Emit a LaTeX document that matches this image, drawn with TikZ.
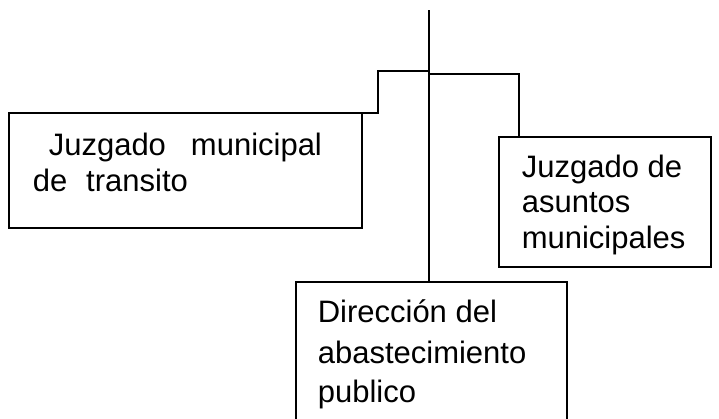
\documentclass[tikz,border=0pt]{standalone}
\usepackage{fontspec}
\setmainfont{Liberation Sans}
\begin{document}
\begin{tikzpicture}[x=1pt,y=-1pt,line width=1.6pt,
  box/.style={draw, inner sep=0pt, outer sep=0pt, anchor=north west},
  openbox/.style={inner sep=0pt, outer sep=0pt, anchor=north west},
  txt/.style={anchor=base west, inner sep=0pt, font=\fontsize{31}{36}\selectfont}]
\useasboundingbox (0,0) rectangle (719,418);
% boxes
\node[box, minimum width=353pt, minimum height=115pt] (L) at (9,113) {};
\node[box, minimum width=212pt, minimum height=130pt] (R) at (499,137) {};
\node[openbox, minimum width=271pt, minimum height=137pt] (B) at (296,282) {};
\draw (B.south west) -- (B.north west) -- (B.north east) -- (B.south east);
% connectors
\coordinate (top) at (429,10);
\coordinate (jl) at (429,71);
\coordinate (jr) at (429,74);
\coordinate (lk) at (378,71);
\coordinate (rk) at (519,74);
\draw (top) -- (top |- B.north);
\draw (jl) -- (lk) -- (lk |- L.north) -- (L.north east);
\draw (jr) -- (rk) -- (rk |- R.north);
% texts
\node[txt] (l1) at (48,155) {Juzgado\hspace{25pt}municipal};
\node[txt] (l2) at (32,191) {de\hspace{19pt}transito};
\node[txt] (r1) at (521,177) {Juzgado de};
\node[txt] (r2) at (521,212) {asuntos};
\node[txt] (r3) at (521,248) {municipales};
\node[txt] (b1) at (317,322) {Dirección del};
\node[txt] (b2) at (317,363) {abastecimiento};
\node[txt] (b3) at (317,402) {publico};
\end{tikzpicture}
\end{document}
